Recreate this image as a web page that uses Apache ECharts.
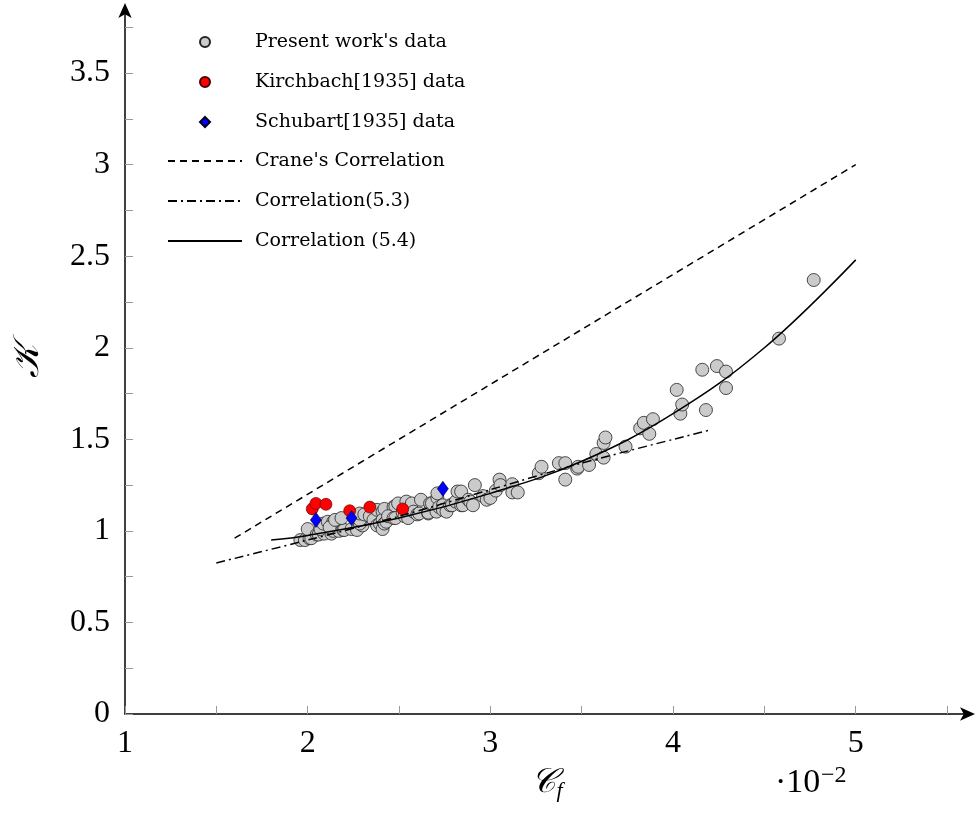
<!DOCTYPE html>
<html>
<head>
<meta charset="utf-8">
<script src="https://cdn.jsdelivr.net/npm/echarts@6/dist/echarts.min.js"></script>
<style>
  html, body { margin: 0; padding: 0; background: #fff; }
  #chart { width: 977px; height: 829px; }
</style>
</head>
<body>
<div id="chart"></div>
<script>
// 数据 (Cf x 10^-2 , K)
var presentData = [
  [1.96,0.95],[1.985,0.95],[2.01,0.96],[2.02,0.96],[2.00,1.01],[2.05,0.98],[2.06,0.98],[2.09,0.985],
  [2.13,0.985],[2.14,1.00],[2.17,1.00],[2.195,1.005],[2.20,1.005],[2.24,1.01],[2.27,1.005],[2.30,1.03],
  [2.07,1.01],[2.085,1.04],[2.11,1.05],[2.14,1.05],[2.12,1.02],[2.15,1.06],[2.185,1.07],[2.285,1.04],
  [2.285,1.06],[2.285,1.095],[2.31,1.09],[2.34,1.08],[2.36,1.06],[2.38,1.115],[2.41,1.105],[2.38,1.03],
  [2.395,1.04],[2.41,1.01],[2.41,1.06],[2.42,1.04],[2.43,1.05],[2.42,1.12],[2.47,1.13],[2.48,1.135],
  [2.495,1.15],[2.44,1.08],[2.47,1.07],[2.48,1.07],[2.52,1.10],[2.53,1.08],[2.55,1.07],[2.54,1.16],
  [2.57,1.115],[2.57,1.15],[2.58,1.105],[2.60,1.09],[2.61,1.095],[2.62,1.17],[2.66,1.095],[2.66,1.10],
  [2.67,1.15],[2.68,1.15],[2.705,1.105],[2.71,1.18],[2.71,1.205],[2.72,1.13],[2.74,1.14],[2.74,1.115],
  [2.76,1.105],[2.78,1.14],[2.79,1.14],[2.81,1.16],[2.82,1.215],[2.84,1.14],[2.84,1.215],[2.85,1.14],
  [2.88,1.17],[2.89,1.16],[2.905,1.14],[2.915,1.25],[2.96,1.19],[2.98,1.17],[3.00,1.18],[3.03,1.22],
  [3.05,1.28],[3.055,1.25],[3.12,1.255],[3.12,1.21],[3.15,1.21],[3.265,1.315],[3.28,1.35],[3.375,1.37],
  [3.41,1.37],[3.41,1.28],[3.475,1.34],[3.48,1.35],[3.54,1.36],[3.58,1.42],[3.62,1.40],[3.62,1.48],
  [3.63,1.51],[3.74,1.46],[3.82,1.56],[3.84,1.59],[3.87,1.53],[3.89,1.61],[4.02,1.77],[4.04,1.64],
  [4.05,1.69],[4.16,1.88],[4.18,1.66],[4.24,1.90],[4.29,1.87],[4.29,1.78],[4.58,2.05],[4.77,2.37]
];
var kirchbachData = [[2.025,1.12],[2.045,1.15],[2.10,1.145],[2.23,1.11],[2.34,1.13],[2.52,1.12]];
var schubartData = [[2.045,1.06],[2.24,1.07],[2.74,1.23]];

var craneLine = [[1.6,0.96],[5.0,3.0]];
var corr53Line = [[1.5,0.825],[2.0,0.95],[2.5,1.08],[3.0,1.225],[3.5,1.37],[4.2,1.55]];
var corr54Line = [[1.8,0.95],[2.0,0.975],[2.5,1.07],[3.0,1.205],[3.5,1.38],[4.0,1.64],[4.5,2.0],[5.0,2.48]];

// 刻度
var xTicks = [1,1.5,2,2.5,3,3.5,4,4.5,5,5.5];
var xLabels = [1,2,3,4,5];
var yTicks = [0,0.25,0.5,0.75,1,1.25,1.5,1.75,2,2.25,2.5,2.75,3,3.25,3.5,3.75];
var yLabels = [0,0.5,1,1.5,2,2.5,3,3.5];

var serifFont = '"Liberation Serif", "DejaVu Serif", serif';
var legendFont = '"DejaVu Serif", serif';

var chart = echarts.init(document.getElementById('chart'));

chart.setOption({
  animation: false,
  backgroundColor: '#fff',
  grid: { left: 125, right: 8, top: 9, bottom: 115 },
  legend: [{
    orient: 'vertical',
    left: 194,
    top: 27,
    itemWidth: 10,
    itemHeight: 10,
    itemGap: 20,
    data: ["Present work's data", 'Kirchbach[1935] data', 'Schubart[1935] data'],
    textStyle: { fontFamily: legendFont, fontSize: 19, lineHeight: 20, color: '#000', padding: [0, 0, 0, 40] }
  }, {
    orient: 'vertical',
    left: 162,
    top: 146,
    itemWidth: 74,
    itemHeight: 10,
    itemGap: 20,
    data: ["Crane's Correlation", 'Correlation(5.3)', 'Correlation (5.4)'],
    textStyle: { fontFamily: legendFont, fontSize: 19, lineHeight: 20, color: '#000', padding: [0, 0, 0, 8] }
  }],
  xAxis: {
    type: 'value',
    min: 1,
    max: 5.62,
    name: '{c|𝒞}{s|f}',
    nameLocation: 'middle',
    nameGap: 50,
    nameTextStyle: {
      rich: {
        c: { fontFamily: serifFont, fontSize: 34, fontStyle: 'italic', color: '#000' },
        s: { fontFamily: serifFont, fontSize: 22, fontStyle: 'italic', color: '#000', padding: [16, 0, 0, 0] }
      }
    },
    splitLine: { show: false },
    axisLine: { lineStyle: { color: '#000', width: 1.5 }, symbol: ['none', 'arrow'], symbolSize: [10, 15], symbolOffset: [0, 6] },
    axisTick: { inside: true, length: 8, customValues: xTicks, lineStyle: { color: '#999' } },
    axisLabel: { customValues: xLabels, margin: 14, fontFamily: serifFont, fontSize: 32, color: '#000' }
  },
  yAxis: {
    type: 'value',
    min: 0,
    max: 3.85,
    name: '𝒦',
    nameLocation: 'middle',
    nameGap: 78,
    nameTextStyle: { fontFamily: serifFont, fontSize: 36, fontStyle: 'italic', color: '#000' },
    splitLine: { show: false },
    axisLine: { lineStyle: { color: '#000', width: 1.5 }, symbol: ['none', 'arrow'], symbolSize: [10, 15], symbolOffset: [0, 6] },
    axisTick: { inside: true, length: 8, customValues: yTicks, lineStyle: { color: '#999' } },
    axisLabel: { customValues: yLabels, margin: 15, fontFamily: serifFont, fontSize: 32, color: '#000', padding: [5, 0, 0, 0] }
  },
  graphic: [{
    type: 'text',
    left: 775,
    top: 766,
    style: { text: '·10', fontFamily: serifFont, fontSize: 34, fill: '#000' }
  }, {
    type: 'text',
    left: 821,
    top: 764,
    style: { text: '−2', fontFamily: serifFont, fontSize: 24, fill: '#000' }
  }],
  series: [{
    name: "Present work's data",
    type: 'scatter',
    data: presentData,
    symbol: 'circle',
    symbolSize: 13,
    itemStyle: { color: '#cbcbcb', borderColor: '#222', borderWidth: 0.8, opacity: 1 }
  }, {
    name: 'Kirchbach[1935] data',
    type: 'scatter',
    data: kirchbachData,
    symbol: 'circle',
    symbolSize: 12,
    itemStyle: { color: '#ff0000', borderColor: '#400', borderWidth: 0.6, opacity: 1 }
  }, {
    name: 'Schubart[1935] data',
    type: 'scatter',
    data: schubartData,
    symbol: 'diamond',
    symbolSize: [11, 15],
    itemStyle: { color: '#0000ff', borderColor: '#002', borderWidth: 0.6, opacity: 1 }
  }, {
    name: "Crane's Correlation",
    type: 'line',
    data: craneLine,
    symbol: 'none',
    lineStyle: { color: '#000', width: 1.5, type: [7, 5] },
    itemStyle: { color: 'rgba(0,0,0,0)', borderWidth: 0 }
  }, {
    name: 'Correlation(5.3)',
    type: 'line',
    data: corr53Line,
    symbol: 'none',
    smooth: 0.3,
    lineStyle: { color: '#000', width: 1.5, type: [9, 4, 2, 4] },
    itemStyle: { color: 'rgba(0,0,0,0)', borderWidth: 0 }
  }, {
    name: 'Correlation (5.4)',
    type: 'line',
    data: corr54Line,
    symbol: 'none',
    smooth: 0.4,
    lineStyle: { color: '#000', width: 1.5 },
    itemStyle: { color: 'rgba(0,0,0,0)', borderWidth: 0 }
  }]
});
</script>
</body>
</html>
